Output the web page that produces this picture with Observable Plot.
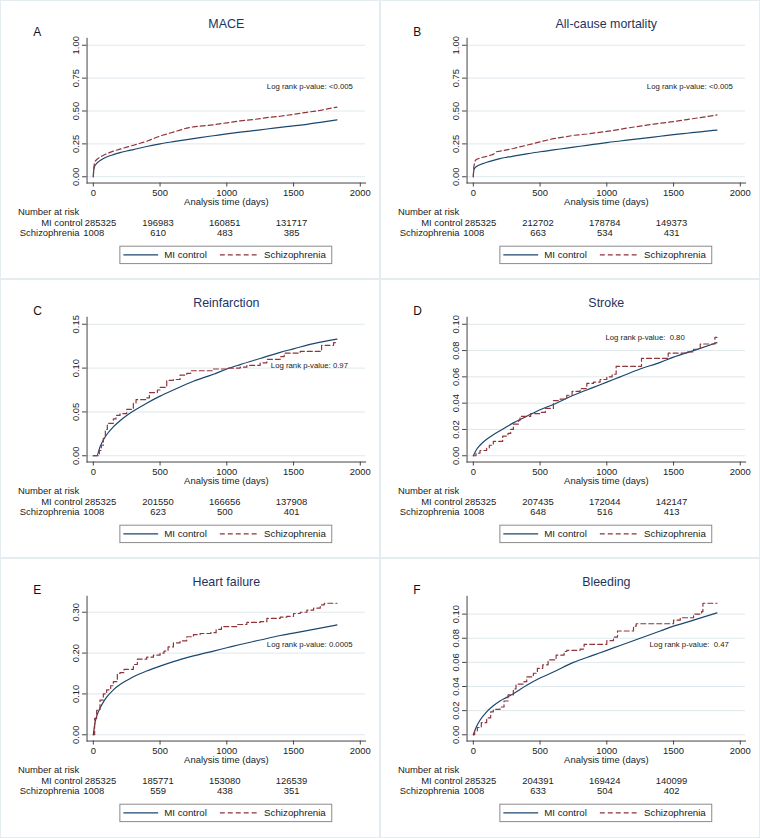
<!DOCTYPE html>
<html><head><meta charset="utf-8">
<script src="https://cdn.jsdelivr.net/npm/d3@7"></script>
<script src="https://cdn.jsdelivr.net/npm/@observablehq/plot@0.6"></script>
<style>
body{margin:0;background:#fff;font-family:"Liberation Sans",Arial,sans-serif;}
#grid{display:grid;grid-template-columns:380px 380px;grid-template-rows:279px 279px 280px;width:760px;height:838px;}
.panel{position:relative;box-sizing:border-box;border:1px solid #e4ecf0;background:#fff;overflow:hidden}
.panel svg{position:absolute;left:0;top:0}
</style></head><body><div id="grid"></div>
<script>
// ---------- data ----------
const letters = ["A","B","C","D","E","F"];
const titles = ["MACE","All-cause mortality","Reinfarction","Stroke","Heart failure","Bleeding"];
const pValues = ["<0.005","<0.005","0.97","\u00a00.80","0.0005","\u00a00.47"];
const pDays = [1300,1300,1330,990,1300,1320];
const pLevels = [0.683,0.683,0.1025,0.0899,0.221,0.0745];
const xTicks = [0,500,1000,1500,2000];
const yTicksA = [0,0.25,0.5,0.75,1];
const yTicksB = [0,0.25,0.5,0.75,1];
const yTicksC = [0,0.05,0.1,0.15];
const yTicksD = [0,0.02,0.04,0.06,0.08,0.1];
const yTicksE = [0,0.1,0.2,0.3];
const yTicksF = [0,0.02,0.04,0.06,0.08,0.1];
const yMax = [1,1,0.15,0.1,0.322,0.109];
const riskTimes = [0,500,1000,1500];
const groups = ["MI control","Schizophrenia"];

const maceMI = [[0,0],[3,0.05],[8,0.075],[20,0.095],[40,0.115],[70,0.135],[100,0.15],[150,0.168],[200,0.183],[250,0.196],[300,0.207],[400,0.23],[500,0.25],[600,0.267],[700,0.283],[800,0.298],[900,0.312],[1000,0.326],[1100,0.339],[1200,0.351],[1300,0.363],[1400,0.375],[1500,0.387],[1600,0.399],[1700,0.413],[1825,0.432]];
const maceSZ = [[0,0],[3,0.06],[8,0.1],[15,0.12],[30,0.135],[60,0.155],[100,0.175],[150,0.195],[200,0.21],[250,0.225],[300,0.24],[350,0.255],[400,0.27],[450,0.29],[500,0.31],[550,0.325],[600,0.34],[650,0.355],[700,0.37],[750,0.38],[800,0.385],[900,0.395],[1000,0.41],[1100,0.425],[1200,0.435],[1300,0.45],[1400,0.46],[1500,0.475],[1600,0.49],[1700,0.505],[1825,0.53]];
const mortMI = [[0,0],[3,0.045],[8,0.06],[20,0.075],[40,0.088],[70,0.1],[100,0.11],[150,0.125],[200,0.138],[250,0.148],[300,0.157],[400,0.174],[500,0.19],[600,0.204],[700,0.218],[800,0.232],[900,0.246],[1000,0.26],[1100,0.272],[1200,0.284],[1300,0.296],[1400,0.308],[1500,0.32],[1600,0.331],[1700,0.342],[1825,0.355]];
const mortSZ = [[0,0],[3,0.07],[8,0.1],[15,0.125],[30,0.135],[60,0.145],[100,0.155],[150,0.17],[170,0.19],[200,0.195],[250,0.205],[300,0.215],[400,0.24],[500,0.265],[550,0.278],[600,0.29],[700,0.305],[750,0.315],[850,0.325],[1000,0.345],[1100,0.36],[1150,0.37],[1250,0.385],[1350,0.4],[1500,0.42],[1600,0.435],[1700,0.45],[1825,0.47]];
const reinfMI = [[0,0],[25,0],[50,0.01],[75,0.018],[100,0.024],[150,0.033],[200,0.04],[250,0.046],[300,0.051],[400,0.06],[500,0.068],[600,0.075],[750,0.085],[900,0.093],[1000,0.099],[1100,0.104],[1250,0.111],[1400,0.118],[1500,0.122],[1650,0.128],[1825,0.133]];
const reinfSZ = [[0,0],[30,0],[45,0.006],[60,0.012],[75,0.02],[90,0.03],[105,0.037],[150,0.042],[170,0.046],[200,0.048],[250,0.053],[300,0.06],[320,0.064],[400,0.066],[420,0.072],[480,0.075],[500,0.078],[550,0.086],[600,0.087],[650,0.092],[700,0.094],[730,0.097],[900,0.099],[1000,0.1],[1100,0.101],[1150,0.103],[1250,0.106],[1300,0.11],[1400,0.113],[1430,0.117],[1550,0.119],[1700,0.119],[1710,0.126],[1800,0.129],[1825,0.13]];
const strokeMI = [[0,0],[20,0.004],[50,0.008],[100,0.0125],[150,0.016],[200,0.019],[250,0.022],[300,0.025],[400,0.03],[500,0.035],[600,0.039],[750,0.046],[900,0.052],[1000,0.056],[1100,0.06],[1250,0.066],[1400,0.071],[1500,0.075],[1650,0.08],[1825,0.086]];
const strokeSZ = [[0,0],[10,0],[20,0.002],[50,0.004],[100,0.006],[120,0.008],[150,0.011],[220,0.015],[260,0.017],[280,0.02],[300,0.024],[340,0.027],[350,0.03],[430,0.032],[500,0.033],[540,0.036],[600,0.042],[650,0.043],[700,0.046],[740,0.049],[800,0.051],[850,0.055],[900,0.056],[950,0.058],[1000,0.06],[1040,0.062],[1070,0.068],[1260,0.074],[1460,0.078],[1600,0.079],[1650,0.081],[1700,0.085],[1810,0.09],[1825,0.09]];
const hfMI = [[0,0],[10,0.025],[25,0.045],[50,0.065],[75,0.08],[100,0.092],[150,0.11],[200,0.123],[250,0.133],[300,0.142],[400,0.156],[500,0.168],[600,0.179],[750,0.193],[900,0.205],[1000,0.213],[1100,0.221],[1250,0.232],[1400,0.243],[1500,0.249],[1650,0.258],[1825,0.269]];
const hfSZ = [[0,0],[10,0.04],[25,0.06],[50,0.085],[75,0.1],[100,0.11],[130,0.12],[150,0.13],[180,0.15],[200,0.152],[230,0.16],[300,0.172],[330,0.185],[400,0.19],[450,0.195],[500,0.2],[530,0.205],[560,0.215],[600,0.225],[650,0.23],[700,0.24],[750,0.245],[800,0.248],[880,0.25],[920,0.258],[960,0.265],[1080,0.27],[1150,0.275],[1250,0.277],[1300,0.285],[1400,0.288],[1450,0.29],[1500,0.297],[1550,0.3],[1600,0.305],[1650,0.31],[1700,0.318],[1730,0.322],[1825,0.322]];
const bleedMI = [[0,0],[25,0.007],[50,0.012],[100,0.019],[150,0.024],[200,0.028],[250,0.031],[300,0.034],[400,0.041],[500,0.047],[600,0.052],[750,0.06],[900,0.066],[1000,0.07],[1100,0.074],[1250,0.08],[1400,0.086],[1500,0.09],[1650,0.095],[1825,0.101]];
const bleedSZ = [[0,0],[10,0.003],[30,0.006],[60,0.01],[100,0.014],[130,0.019],[150,0.021],[200,0.023],[230,0.028],[260,0.033],[300,0.038],[320,0.042],[380,0.044],[400,0.048],[450,0.051],[480,0.055],[520,0.058],[560,0.062],[620,0.066],[680,0.069],[700,0.07],[800,0.071],[830,0.075],[1000,0.078],[1050,0.081],[1080,0.086],[1200,0.09],[1220,0.092],[1500,0.095],[1550,0.097],[1650,0.1],[1710,0.102],[1720,0.109],[1825,0.109]];

const riskMaceMI = [285325,196983,160851,131717], riskMaceSZ = [1008,610,483,385];
const riskMortMI = [285325,212702,178784,149373], riskMortSZ = [1008,663,534,431];
const riskReinfMI = [285325,201550,166656,137908], riskReinfSZ = [1008,623,500,401];
const riskStrokeMI = [285325,207435,172044,142147], riskStrokeSZ = [1008,648,516,413];
const riskHfMI = [285325,185771,153080,126539], riskHfSZ = [1008,559,438,351];
const riskBleedMI = [285325,204391,169424,140099], riskBleedSZ = [1008,633,504,402];

// ---------- assembly ----------
const seriesMI = [maceMI, mortMI, reinfMI, strokeMI, hfMI, bleedMI];
const seriesSZ = [maceSZ, mortSZ, reinfSZ, strokeSZ, hfSZ, bleedSZ];
const yTicks = [yTicksA, yTicksB, yTicksC, yTicksD, yTicksE, yTicksF];
const riskMI = [riskMaceMI, riskMortMI, riskReinfMI, riskStrokeMI, riskHfMI, riskBleedMI];
const riskSZ = [riskMaceSZ, riskMortSZ, riskReinfSZ, riskStrokeSZ, riskHfSZ, riskBleedSZ];

const NAVY = "#1a476f", MAROON = "#90353b", TITLE = "#1e3461";
const FONT = "'Liberation Sans', Arial, Helvetica, sans-serif";
const grid = document.getElementById("grid");
const fmt2 = d3.format(".2f");

letters.forEach((letter, i) => {
  const W = 380, H = i >= 4 ? 278 : 277;
  const mi = seriesMI[i].map(([t, v]) => ({t, v}));
  const sz = seriesSZ[i].map(([t, v]) => ({t, v}));
  const riskRows = riskTimes.map((t, k) => ({t, k, mi: String(riskMI[i][k]), sz: String(riskSZ[i][k])}));
  const first = riskRows.filter(d => d.k === 0), rest = riskRows.filter(d => d.k > 0);
  const svg = Plot.plot({
    width: W, height: H,
    marginLeft: 86, marginRight: 14, marginTop: 37, marginBottom: H - 182.5,
    insetLeft: 6.3, insetRight: 5.3, insetTop: 7, insetBottom: 6.3,
    x: {domain: [0, 2000]},
    y: {domain: [0, yMax[i]]},
    style: {fontFamily: FONT, fontSize: "9.5px", color: "#222", background: "white", overflow: "visible"},
    marks: [
      Plot.ruleY(yTicks[i], {stroke: "#dfe8ec", strokeWidth: 1}),
      Plot.frame({anchor: "left", stroke: "#444"}),
      Plot.frame({anchor: "bottom", stroke: "#444"}),
      Plot.axisX({ticks: xTicks, tickSize: 4, tickPadding: 2, tickFormat: d => String(d), label: null, fontSize: 9.5, stroke: "#444"}),
      Plot.axisY({ticks: yTicks[i], tickSize: 4.5, tickFormat: () => "", label: null, stroke: "#444"}),
      Plot.text(yTicks[i], {y: d => d, text: d => fmt2(d), frameAnchor: "left", dx: -11, rotate: -90, textAnchor: "middle", lineAnchor: "middle", fontSize: 9.5, fill: "#222"}),
      Plot.line(mi, {x: "t", y: "v", stroke: NAVY, strokeWidth: 1.2, curve: "monotone-x"}),
      Plot.line(sz, {x: "t", y: "v", stroke: MAROON, strokeWidth: 1.2, strokeDasharray: "5,3", curve: i < 2 ? "linear" : "step-after"}),
      Plot.text([`Log rank p-value: ${pValues[i]}`], {x: [pDays[i]], y: [pLevels[i]], text: d => d, textAnchor: "start", fontSize: 7.8, fill: "#222"}),
      Plot.text([titles[i]], {frameAnchor: "top", dy: -19.5, fontSize: 12.5, fill: TITLE}),
      Plot.text([letter], {frameAnchor: "top-left", dx: -54, dy: -11, fontSize: 12, fill: "#111"}),
      Plot.text(["Analysis time (days)"], {frameAnchor: "bottom", dy: 22.5, fontSize: 9.5, fill: "#222"}),
      Plot.text(["Number at risk"], {frameAnchor: "bottom-left", dx: -69.5, dy: 32, textAnchor: "start", fontSize: 9.5, fill: "#222"}),
      Plot.text([groups[0]], {frameAnchor: "bottom-left", dx: -4.5, dy: 42.8, textAnchor: "end", fontSize: 9.5, fill: "#222"}),
      Plot.text([groups[1]], {frameAnchor: "bottom-left", dx: -7.5, dy: 53.5, textAnchor: "end", fontSize: 9.5, fill: "#222"}),
      Plot.text(first, {x: "t", text: "mi", frameAnchor: "bottom", dy: 42.8, dx: -8.5, textAnchor: "start", fontSize: 9.5, fill: "#222"}),
      Plot.text(first, {x: "t", text: "sz", frameAnchor: "bottom", dy: 53.5, dx: -10, textAnchor: "start", fontSize: 9.5, fill: "#222"}),
      Plot.text(rest, {x: "t", text: "mi", frameAnchor: "bottom", dy: 42.8, dx: -2, fontSize: 9.5, fill: "#222"}),
      Plot.text(rest, {x: "t", text: "sz", frameAnchor: "bottom", dy: 53.5, dx: -2, fontSize: 9.5, fill: "#222"})
    ]
  });
  // legend box
  const g = d3.select(svg).append("g").attr("font-family", FONT).attr("font-size", 9.8)
    .attr("fill", "#222").attr("text-anchor", "start");
  g.append("rect").attr("x", 119.5).attr("y", 246.5).attr("width", 213).attr("height", 17.5)
    .attr("fill", "white").attr("stroke", "#8a8a8a").attr("stroke-width", 1);
  g.append("line").attr("x1", 123).attr("x2", 158).attr("y1", 255.3).attr("y2", 255.3)
    .attr("stroke", NAVY).attr("stroke-width", 1.2);
  g.append("text").attr("x", 164).attr("y", 255.3).attr("dy", "0.35em").attr("text-anchor", "start").text(groups[0]);
  g.append("line").attr("x1", 220).attr("x2", 259).attr("y1", 255.3).attr("y2", 255.3)
    .attr("stroke", MAROON).attr("stroke-width", 1.2).attr("stroke-dasharray", "5,3");
  g.append("text").attr("x", 264.5).attr("y", 255.3).attr("dy", "0.35em").attr("text-anchor", "start").text(groups[1]);

  const div = document.createElement("div");
  div.className = "panel";
  div.appendChild(svg);
  grid.appendChild(div);
});
</script></body></html>
